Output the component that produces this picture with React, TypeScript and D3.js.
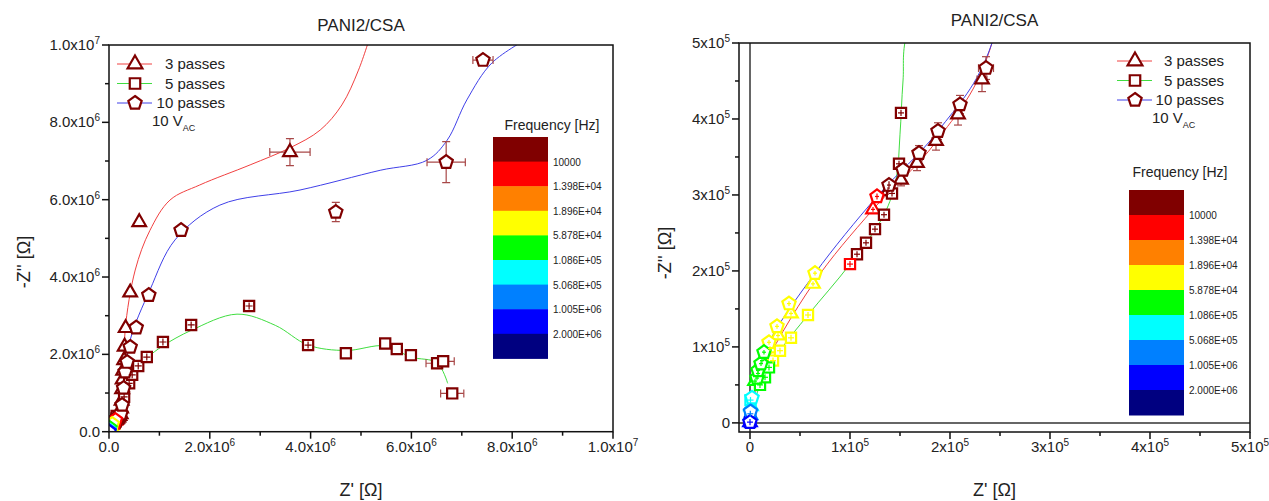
import React from "react";
import * as d3 from "d3";

// point: [Z', -Z'', frequency band, xErr, yErr]
type Pt = [number, number, number, number?, number?];

const bandColors = ["#800000", "#ff0000", "#ff8000", "#ffff00", "#00ff00", "#00ffff", "#0080ff", "#0000ff", "#000080"];
const bandLabels = ["10000", "1.398E+04", "1.896E+04", "5.878E+04", "1.086E+05", "5.068E+05", "1.005E+06", "2.000E+06"];

const seriesNames = ["3 passes", "5 passes", "10 passes"];
const lineColors = ["#f04040", "#40dd40", "#4040e8"];

const pass3: Pt[] = [
  [0, 0.01e5, 7], [0.005e5, 0.1e5, 6], [0.01e5, 0.22e5, 5],
  [0.05e5, 0.55e5, 4, 0.02e5, 0.03e5], [0.08e5, 0.65e5, 4, 0.02e5, 0.03e5], [0.12e5, 0.82e5, 4, 0.02e5, 0.03e5],
  [0.2e5, 0.98e5, 3, 0.02e5, 0.03e5], [0.28e5, 1.15e5, 3, 0.02e5, 0.03e5], [0.41e5, 1.44e5, 3, 0.02e5, 0.03e5], [0.63e5, 1.83e5, 3, 0.02e5, 0.03e5],
  [1.23e5, 2.81e5, 1, 0.02e5, 0.03e5], [1.38e5, 3.05e5, 0, 0.02e5, 0.05e5], [1.51e5, 3.2e5, 0, 0.03e5, 0.08e5],
  [1.67e5, 3.42e5, 0, 0.03e5, 0.1e5], [1.86e5, 3.71e5, 0, 0.04e5, 0.12e5], [2.08e5, 4.06e5, 0, 0.04e5, 0.14e5],
  [2.32e5, 4.52e5, 0, 0.05e5, 0.16e5],
  [0.24e6, 0.6e6, 0], [0.25e6, 0.8e6, 0], [0.26e6, 1.1e6, 0], [0.27e6, 1.35e6, 0], [0.28e6, 1.58e6, 0],
  [0.3e6, 1.85e6, 0], [0.31e6, 2.2e6, 0], [0.33e6, 2.68e6, 0], [0.42e6, 3.6e6, 0], [0.6e6, 5.42e6, 0],
  [3.59e6, 7.23e6, 0, 0.4e6, 0.35e6],
];

const pass5: Pt[] = [
  [0, 0.01e5, 7, 0.03e5, 0.04e5], [0.003e5, 0.12e5, 6, 0.03e5, 0.04e5], [0.005e5, 0.3e5, 5, 0.03e5, 0.04e5],
  [0.1e5, 0.5e5, 4, 0.03e5, 0.04e5], [0.15e5, 0.6e5, 4, 0.03e5, 0.04e5], [0.19e5, 0.73e5, 4, 0.03e5, 0.04e5],
  [0.23e5, 0.82e5, 3, 0.03e5, 0.04e5], [0.3e5, 0.95e5, 3, 0.03e5, 0.04e5], [0.41e5, 1.12e5, 3, 0.03e5, 0.04e5], [0.58e5, 1.42e5, 3, 0.03e5, 0.04e5],
  [1.0e5, 2.09e5, 1, 0.03e5, 0.04e5], [1.07e5, 2.22e5, 0, 0.03e5, 0.04e5], [1.16e5, 2.37e5, 0, 0.03e5, 0.04e5],
  [1.25e5, 2.55e5, 0, 0.03e5, 0.04e5], [1.34e5, 2.74e5, 0, 0.03e5, 0.04e5], [1.42e5, 3.02e5, 0, 0.03e5, 0.04e5],
  [1.49e5, 3.41e5, 0, 0.03e5, 0.04e5], [1.51e5, 4.08e5, 0, 0.03e5, 0.04e5],
  [0.3e6, 0.9e6, 0, 0.07e6, 0.09e6], [0.4e6, 1.25e6, 0, 0.07e6, 0.09e6], [0.46e6, 1.47e6, 0, 0.07e6, 0.09e6],
  [0.58e6, 1.7e6, 0, 0.07e6, 0.09e6], [0.75e6, 1.93e6, 0, 0.07e6, 0.09e6], [1.07e6, 2.32e6, 0, 0.07e6, 0.09e6],
  [1.63e6, 2.76e6, 0, 0.07e6, 0.09e6], [2.78e6, 3.25e6, 0, 0.07e6, 0.09e6], [3.95e6, 2.24e6, 0, 0.07e6, 0.09e6],
  [4.7e6, 2.03e6, 0], [5.48e6, 2.28e6, 0], [5.71e6, 2.14e6, 0], [5.99e6, 1.98e6, 0],
  [6.51e6, 1.77e6, 0, 0.22e6, 0], [6.63e6, 1.82e6, 0, 0.22e6, 0], [6.81e6, 0.99e6, 0, 0.23e6, 0],
];

const pass10: Pt[] = [
  [0, 0.01e5, 7], [0.005e5, 0.15e5, 6], [0.02e5, 0.33e5, 5],
  [0.07e5, 0.59e5, 4, 0.02e5, 0.03e5], [0.08e5, 0.69e5, 4, 0.02e5, 0.03e5], [0.11e5, 0.78e5, 4, 0.02e5, 0.03e5], [0.14e5, 0.93e5, 4, 0.02e5, 0.03e5],
  [0.19e5, 1.06e5, 3, 0.02e5, 0.03e5], [0.27e5, 1.27e5, 3, 0.02e5, 0.03e5], [0.39e5, 1.57e5, 3, 0.02e5, 0.03e5], [0.65e5, 1.97e5, 3, 0.02e5, 0.03e5],
  [1.27e5, 2.98e5, 1, 0.02e5, 0.04e5], [1.39e5, 3.13e5, 0, 0.02e5, 0.05e5], [1.53e5, 3.33e5, 0, 0.03e5, 0.08e5],
  [1.69e5, 3.55e5, 0, 0.03e5, 0.1e5], [1.88e5, 3.84e5, 0, 0.04e5, 0.11e5], [2.1e5, 4.19e5, 0, 0.05e5, 0.12e5],
  [2.36e5, 4.67e5, 0, 0.075e5, 0.15e5],
  [0.26e6, 0.69e6, 0], [0.29e6, 1.13e6, 0], [0.32e6, 1.55e6, 0], [0.36e6, 1.8e6, 0], [0.42e6, 2.19e6, 0],
  [0.54e6, 2.69e6, 0], [0.79e6, 3.53e6, 0], [1.43e6, 5.21e6, 0],
  [4.5e6, 5.68e6, 0, 0.05e6, 0.25e6], [6.69e6, 6.97e6, 0, 0.38e6, 0.53e6], [7.42e6, 9.61e6, 0, 0.2e6, 0.08e6],
];

// fitted curves
const fit3: [number, number][] = [
  [0, 0], [0.1e5, 0.6e5], [0.63e5, 1.83e5], [1.23e5, 2.81e5], [1.86e5, 3.7e5], [2.42e5, 5e5],
  [0.3e6, 1.5e6], [0.32e6, 2.63e6], [0.52e6, 4.18e6], [0.81e6, 5.2e6], [1.21e6, 5.99e6], [1.8e6, 6.38e6],
  [2.8e6, 6.9e6], [3.59e6, 7.34e6], [4.19e6, 7.8e6], [4.62e6, 8.45e6], [4.95e6, 9.35e6], [5.2e6, 10.3e6],
];
const fit5: [number, number][] = [
  [0, 0], [0.1e5, 0.5e5], [0.3e5, 0.95e5], [0.58e5, 1.42e5], [1.0e5, 2.09e5], [1.34e5, 2.74e5],
  [1.46e5, 3.2e5], [1.5e5, 3.8e5], [1.53e5, 4.5e5], [1.58e5, 5.2e5],
  [0.46e6, 1.45e6], [0.75e6, 1.9e6], [1.07e6, 2.22e6], [1.63e6, 2.62e6], [2.54e6, 3.04e6], [3.3e6, 2.75e6],
  [3.95e6, 2.24e6], [4.7e6, 2.1e6], [5.48e6, 2.22e6], [5.99e6, 1.93e6], [6.51e6, 1.78e6], [6.72e6, 1.25e6],
];
const fit10: [number, number][] = [
  [0, 0], [0.07e5, 0.59e5], [0.19e5, 1.06e5], [0.65e5, 1.97e5], [1.27e5, 2.98e5], [1.88e5, 3.84e5], [2.42e5, 5e5],
  [0.3e6, 1.2e6], [0.42e6, 2.37e6], [0.81e6, 3.66e6], [1.31e6, 4.96e6], [2.2e6, 5.86e6], [3.79e6, 6.25e6],
  [5.38e6, 6.76e6], [6.31e6, 7.02e6], [6.71e6, 7.54e6], [7.1e6, 8.58e6], [7.6e6, 9.54e6], [8.35e6, 10.2e6],
];

const allSeries = [pass3, pass5, pass10];
const allFits = [fit3, fit5, fit10];

const leftTicks = [0, 2e6, 4e6, 6e6, 8e6, 1e7];
const leftMinor = [1e6, 3e6, 5e6, 7e6, 9e6];
const leftLabels: [string, string][] = [["0.0", ""], ["2.0x10", "6"], ["4.0x10", "6"], ["6.0x10", "6"], ["8.0x10", "6"], ["1.0x10", "7"]];
const rightTicks = [0, 1e5, 2e5, 3e5, 4e5, 5e5];
const rightMinor = [0.5e5, 1.5e5, 2.5e5, 3.5e5, 4.5e5];
const rightLabels: [string, string][] = [["0", ""], ["1x10", "5"], ["2x10", "5"], ["3x10", "5"], ["4x10", "5"], ["5x10", "5"]];

const FONT = "'Liberation Sans', Arial, sans-serif";

const pentagon = d3
  .lineRadial<number>()
  .angle((k) => (k * 2 * Math.PI) / 5)
  .radius(7)
  .curve(d3.curveLinearClosed);

function markerPath(kind: number, big = false) {
  if (kind === 0) return d3.symbol(d3.symbolTriangle, big ? 95 : 80)()!;
  if (kind === 1) return d3.symbol(d3.symbolSquare, big ? 110 : 104)()!;
  return pentagon([0, 1, 2, 3, 4])!;
}

function Sup({ x, y, lab, anchor }: { x: number; y: number; lab: [string, string]; anchor: string }) {
  return (
    <text x={x} y={y} textAnchor={anchor} fontSize={15} fontFamily={FONT} fill="#222">
      {lab[0]}
      {lab[1] && (
        <tspan dy={-6} fontSize={10}>
          {lab[1]}
        </tspan>
      )}
    </text>
  );
}

type Cfg = {
  id: string;
  xDomain: [number, number];
  xRange: [number, number];
  yDomain: [number, number];
  yRange: [number, number];
  ticks: number[];
  minor: number[];
  labels: [string, string][];
  titleY: number;
  yTitleX: number;
  yTitleY: number;
  legX: number;
  legRight: number;
  legY: number;
  legDy: number;
  cbX: number;
  cbY: number;
  cbH: number;
  cbTitleX: number;
  cbTitleY: number;
  zero: boolean;
};

function Panel({ c }: { c: Cfg }) {
  const x = d3.scaleLinear().domain(c.xDomain).range(c.xRange);
  const y = d3.scaleLinear().domain(c.yDomain).range(c.yRange);
  const [x0, x1] = c.xRange;
  const [y0, y1] = c.yRange;
  const cx = (x0 + x1) / 2;
  const line = d3
    .line<[number, number]>()
    .x((d) => x(d[0]))
    .y((d) => y(d[1]))
    .curve(d3.curveCatmullRom.alpha(0.5));

  const errBars = (s: number, front: boolean) =>
    allSeries[s].map((p, i) => {
      const px = x(p[0]);
      const py = y(p[1]);
      const ex = p[3] ? Math.abs(x(p[0] + p[3]) - px) : 0;
      const ey = p[4] ? Math.abs(y(p[1] + p[4]) - py) : 0;
      if (ex < 0.8 && ey < 0.8) return null;
      const small = ex < 6 && ey < 6;
      if (small !== front) return null;
      const col = front ? bandColors[p[2]] : "#a84848";
      const cap = front ? 0 : 4;
      return (
        <g key={i} stroke={col} strokeWidth={1.2} fill="none">
          {ex >= 0.8 && (
            <>
              <line x1={px - ex} x2={px + ex} y1={py} y2={py} />
              {cap > 0 && <line x1={px - ex} x2={px - ex} y1={py - cap} y2={py + cap} />}
              {cap > 0 && <line x1={px + ex} x2={px + ex} y1={py - cap} y2={py + cap} />}
            </>
          )}
          {ey >= 0.8 && (
            <>
              <line x1={px} x2={px} y1={py - ey} y2={py + ey} />
              {cap > 0 && <line x1={px - cap} x2={px + cap} y1={py - ey} y2={py - ey} />}
              {cap > 0 && <line x1={px - cap} x2={px + cap} y1={py + ey} y2={py + ey} />}
            </>
          )}
        </g>
      );
    });

  return (
    <g fontFamily={FONT}>
      <defs>
        <clipPath id={`clip${c.id}`}>
          <rect x={x0} y={y1} width={x1 - x0} height={y0 - y1} />
        </clipPath>
      </defs>
      <text x={cx} y={c.titleY} textAnchor="middle" fontSize={17} fill="#222">
        PANI2/CSA
      </text>

      <g clipPath={`url(#clip${c.id})`}>
        {c.zero && (
          <g stroke="#333" strokeWidth={1.5}>
            <line x1={x(0)} x2={x(0)} y1={y1} y2={y0} />
            <line x1={x0} x2={x1} y1={y(0)} y2={y(0)} />
          </g>
        )}
        {allFits.map((f, s) => (
          <path key={s} d={line(f)!} fill="none" stroke={lineColors[s]} strokeWidth={1} />
        ))}
        {[0, 1, 2].map((s) => (
          <g key={"b" + s}>{errBars(s, false)}</g>
        ))}
        {allSeries.map((ser, s) => (
          <g key={"m" + s}>
            {[...ser]
              .sort((a, b) => a[2] - b[2])
              .map((p, i) => (
                <path
                  key={i}
                  d={markerPath(s)}
                  transform={`translate(${x(p[0])},${y(p[1])})`}
                  fill="#fff"
                  stroke={bandColors[p[2]]}
                  strokeWidth={2.2}
                />
              ))}
          </g>
        ))}
        {[0, 1, 2].map((s) => (
          <g key={"f" + s}>{errBars(s, true)}</g>
        ))}
      </g>

      {/* frame */}
      <rect x={x0} y={y1} width={x1 - x0} height={y0 - y1} fill="none" stroke="#111" strokeWidth={1.5} />

      {/* x ticks */}
      {c.ticks.map((t, i) => (
        <g key={"xt" + i}>
          <line x1={x(t)} x2={x(t)} y1={y0} y2={y0 + 7} stroke="#111" strokeWidth={1.5} />
          <Sup x={x(t)} y={y0 + 20} lab={c.labels[i]} anchor="middle" />
        </g>
      ))}
      {c.minor.map((t, i) => (
        <line key={"xm" + i} x1={x(t)} x2={x(t)} y1={y0} y2={y0 + 4} stroke="#111" strokeWidth={1.5} />
      ))}
      {/* y ticks */}
      {c.ticks.map((t, i) => (
        <g key={"yt" + i}>
          <line x1={x0 - 7} x2={x0} y1={y(t)} y2={y(t)} stroke="#111" strokeWidth={1.5} />
          <Sup x={x0 - 9} y={y(t) + 5} lab={c.labels[i]} anchor="end" />
        </g>
      ))}
      {c.minor.map((t, i) => (
        <line key={"ym" + i} x1={x0 - 4} x2={x0} y1={y(t)} y2={y(t)} stroke="#111" strokeWidth={1.5} />
      ))}

      <text x={cx} y={496} textAnchor="middle" fontSize={18} fill="#222">
        Z' [Ω]
      </text>
      <text
        transform={`translate(${c.yTitleX},${c.yTitleY}) rotate(-90)`}
        textAnchor="middle"
        fontSize={18}
        fill="#222"
      >
        -Z'' [Ω]
      </text>

      {/* legend */}
      {seriesNames.map((n, s) => {
        const ly = c.legY + s * c.legDy;
        return (
          <g key={"l" + s}>
            <line x1={c.legX - 18} x2={c.legX + 17} y1={ly} y2={ly} stroke={lineColors[s]} strokeWidth={1} />
            <path d={markerPath(s, true)} transform={`translate(${c.legX},${ly})`} fill="#fff" stroke="#800000" strokeWidth={2.2} />
            <text x={c.legRight} y={ly + 5} textAnchor="end" fontSize={15} fill="#222">
              {n}
            </text>
          </g>
        );
      })}
      <text x={c.legX + 17} y={c.legY + 3 * c.legDy + 3} fontSize={15} fill="#222">
        10 V
        <tspan dy={5} fontSize={9}>
          AC
        </tspan>
      </text>

      {/* colour scale */}
      <text x={c.cbTitleX} y={c.cbTitleY} textAnchor="middle" fontSize={14} fill="#222">
        Frequency [Hz]
      </text>
      {bandColors.map((col, i) => (
        <rect key={"cb" + i} x={c.cbX} y={c.cbY + i * c.cbH} width={55} height={c.cbH + 0.5} fill={col} />
      ))}
      {bandLabels.map((l, i) => (
        <text key={"cl" + i} x={c.cbX + 60} y={c.cbY + (i + 1) * c.cbH + 4} fontSize={10} fill="#222">
          {l}
        </text>
      ))}
    </g>
  );
}

const leftCfg: Cfg = {
  id: "L",
  xDomain: [0, 1e7],
  xRange: [109, 613],
  yDomain: [0, 1e7],
  yRange: [431.7, 45],
  ticks: leftTicks,
  minor: leftMinor,
  labels: leftLabels,
  titleY: 31,
  yTitleX: 30,
  yTitleY: 262,
  legX: 135,
  legRight: 225,
  legY: 64,
  legDy: 19.5,
  cbX: 493,
  cbY: 137,
  cbH: 24.6,
  cbTitleX: 552,
  cbTitleY: 130,
  zero: false,
};

const rightCfg: Cfg = {
  id: "R",
  xDomain: [-1.1e4, 5e5],
  xRange: [739, 1250],
  yDomain: [-1.2e4, 5e5],
  yRange: [432, 43],
  ticks: rightTicks,
  minor: rightMinor,
  labels: rightLabels,
  titleY: 26,
  yTitleX: 671,
  yTitleY: 253,
  legX: 1135,
  legRight: 1224,
  legY: 61,
  legDy: 19.5,
  cbX: 1129,
  cbY: 190,
  cbH: 25,
  cbTitleX: 1180,
  cbTitleY: 177,
  zero: true,
};

export default function App() {
  return (
    <svg width={1269} height={501} style={{ position: "absolute", left: 0, top: 0, background: "#fff" }}>
      <Panel c={leftCfg} />
      <Panel c={rightCfg} />
    </svg>
  );
}
